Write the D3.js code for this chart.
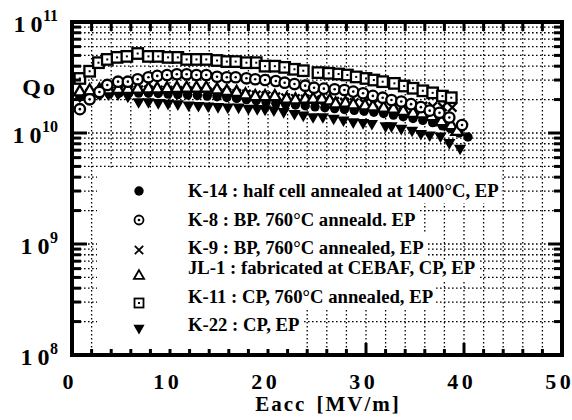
<!DOCTYPE html>
<html>
<head>
<meta charset="utf-8">
<script src="https://cdn.jsdelivr.net/npm/d3@7"></script>
<style>
  html, body { margin: 0; padding: 0; background: #fff; }
  svg { display: block; }
</style>
</head>
<body>
<svg id="chart" width="572" height="420"></svg>
<script>
// Q0 versus accelerating gradient for six cavities

// K-14 : half cell annealed at 1400°C, EP
const k14E = [0.8, 1.8, 2.8, 3.8, 4.8, 5.8, 6.8, 7.8, 8.8, 9.8, 10.8, 11.8, 12.8, 13.8, 14.8, 15.8, 16.8, 17.8, 18.8, 19.8,
              20.8, 21.8, 22.8, 23.8, 24.8, 25.8, 26.8, 27.8, 28.8, 29.8, 30.8, 31.8, 32.8, 33.8, 34.8, 35.8, 36.8, 37.8, 38.6, 39.5, 40.4];
const k14Q = [2.11e10, 2.18e10, 2.22e10, 2.25e10, 2.28e10, 2.29e10, 2.29e10, 2.28e10, 2.27e10, 2.24e10, 2.22e10, 2.2e10, 2.18e10, 2.15e10, 2.12e10, 2.09e10, 2.05e10, 2.0e10, 1.96e10, 1.9e10,
              1.85e10, 1.82e10, 1.79e10, 1.76e10, 1.72e10, 1.69e10, 1.66e10, 1.63e10, 1.6e10, 1.57e10, 1.54e10, 1.5e10, 1.45e10, 1.4e10, 1.35e10, 1.3e10, 1.24e10, 1.16e10, 1.1e10, 1.0e10, 9.2e9];

// K-8 : BP, 760°C annealed, EP
const k8E = [0.8, 1.8, 2.8, 3.6, 4.7, 5.7, 6.7, 7.8, 8.7, 9.7, 10.7, 11.7, 12.7, 13.7, 14.8, 15.8, 16.7, 17.8, 18.7, 19.7,
             20.8, 21.7, 22.7, 23.8, 24.7, 25.7, 26.8, 27.8, 28.7, 29.7, 30.7, 31.7, 32.6, 33.6, 34.6, 35.6, 36.5, 37.5, 38.5, 39.8];
const k8Q = [1.64e10, 2.01e10, 2.34e10, 2.71e10, 2.9e10, 2.9e10, 3.05e10, 3.18e10, 3.27e10, 3.33e10, 3.38e10, 3.38e10, 3.33e10, 3.33e10, 3.21e10, 3.18e10, 3.18e10, 3.11e10, 3.05e10, 3.0e10,
             2.94e10, 2.84e10, 2.76e10, 2.67e10, 2.56e10, 2.51e10, 2.48e10, 2.44e10, 2.36e10, 2.28e10, 2.16e10, 2.08e10, 1.98e10, 1.92e10, 1.82e10, 1.71e10, 1.59e10, 1.52e10, 1.38e10, 1.18e10];

// K-9 : BP, 760°C annealed, EP
const k9E = [0.8, 1.8, 2.8, 3.8, 4.8, 5.8, 6.8, 7.8, 8.8, 9.8, 10.8, 11.8, 12.8, 13.8, 14.8, 15.8, 16.8, 17.8, 18.8, 19.8,
             20.8, 21.8, 22.8, 23.8, 24.8, 25.8, 26.8, 27.8, 28.8, 29.8, 30.8, 31.8, 32.8, 33.8, 34.8, 35.8, 36.8, 37.8, 38.8];
const k9Q = [2.15e10, 2.28e10, 2.36e10, 2.4e10, 2.43e10, 2.45e10, 2.45e10, 2.45e10, 2.44e10, 2.43e10, 2.42e10, 2.4e10, 2.38e10, 2.36e10, 2.33e10, 2.3e10, 2.27e10, 2.24e10, 2.2e10, 2.16e10,
             2.12e10, 2.08e10, 2.05e10, 2.02e10, 1.99e10, 1.96e10, 1.93e10, 1.9e10, 1.88e10, 1.86e10, 1.84e10, 1.82e10, 1.8e10, 1.78e10, 1.76e10, 1.75e10, 1.73e10, 1.72e10, 1.7e10];

// JL-1 : fabricated at CEBAF, CP, EP
const jl1E = [0.8, 1.8, 2.8, 3.7, 4.7, 5.7, 6.7, 7.8, 8.7, 9.7, 10.7, 11.7, 12.7, 13.7, 14.8, 15.8, 16.8, 17.7, 18.7, 19.7,
              20.7, 21.9, 22.8, 23.8, 24.6, 25.5, 26.3, 26.9, 27.9, 28.7, 29.9, 30.7, 31.8, 32.8, 33.8, 34.8, 35.7, 36.7, 37.7, 38.7, 39.3];
const jl1Q = [2.34e10, 2.39e10, 2.42e10, 2.44e10, 2.46e10, 2.47e10, 2.48e10, 2.49e10, 2.49e10, 2.5e10, 2.52e10, 2.53e10, 2.53e10, 2.53e10, 2.44e10, 2.36e10, 2.31e10, 2.2e10, 2.12e10, 2.12e10,
              2.12e10, 2.01e10, 1.98e10, 2.01e10, 2.01e10, 2.01e10, 1.94e10, 1.82e10, 1.85e10, 1.79e10, 1.75e10, 1.71e10, 1.67e10, 1.64e10, 1.56e10, 1.5e10, 1.48e10, 1.4e10, 1.26e10, 1.16e10, 1.03e10];

// K-11 : CP, 760°C annealed, EP
const k11E = [0.8, 1.8, 2.7, 3.6, 4.6, 5.6, 6.7, 7.8, 8.8, 9.8, 10.8, 11.7, 12.7, 13.7, 14.8, 15.8, 16.7, 17.8, 18.8, 19.7,
              20.7, 21.7, 22.7, 23.6, 25.1, 26.2, 27.2, 28.1, 29.0, 30.0, 30.8, 31.7, 32.9, 33.9, 34.8, 35.8, 36.8, 37.8, 38.7];
const k11Q = [3.1e10, 3.6e10, 4.3e10, 4.6e10, 4.8e10, 4.9e10, 5.2e10, 4.9e10, 4.9e10, 4.8e10, 4.8e10, 4.6e10, 4.6e10, 4.6e10, 4.5e10, 4.4e10, 4.4e10, 4.3e10, 4.3e10, 4.0e10,
              4.0e10, 3.9e10, 3.75e10, 3.64e10, 3.5e10, 3.45e10, 3.4e10, 3.33e10, 3.2e10, 3.1e10, 3.0e10, 2.9e10, 2.8e10, 2.65e10, 2.53e10, 2.4e10, 2.3e10, 2.15e10, 2.08e10];

// K-22 : CP, EP
const k22E = [0.8, 1.8, 2.8, 3.7, 4.7, 5.7, 6.8, 7.8, 8.8, 9.8, 10.8, 11.9, 12.9, 13.9, 14.9, 15.9, 17.0, 18.0, 18.9, 19.7,
              20.6, 21.6, 22.7, 23.6, 24.6, 25.6, 26.7, 27.7, 28.7, 29.7, 30.6, 32.0, 32.6, 33.6, 34.7, 35.6, 36.5, 37.6, 38.5, 39.6];
const k22Q = [2.15e10, 2.2e10, 2.25e10, 2.25e10, 2.25e10, 2.15e10, 1.91e10, 1.91e10, 1.88e10, 1.85e10, 1.83e10, 1.79e10, 1.77e10, 1.75e10, 1.73e10, 1.71e10, 1.71e10, 1.67e10, 1.66e10, 1.64e10,
              1.61e10, 1.56e10, 1.5e10, 1.45e10, 1.4e10, 1.4e10, 1.36e10, 1.31e10, 1.26e10, 1.24e10, 1.22e10, 1.16e10, 1.16e10, 1.1e10, 1.06e10, 9.9e9, 9.6e9, 9.4e9, 8.2e9, 7.3e9];

const xTickLabels = ["0", "10", "20", "30", "40", "50"];
const yDecades = [1e8, 1e9, 1e10, 1e11];
const yDecadeExp = ["8", "9", "10", "11"];

const legendLabels = [
  "K-14 : half cell annealed at 1400°C, EP",
  "K-8 : BP. 760°C anneald. EP",
  "K-9 : BP, 760°C annealed, EP",
  "JL-1 : fabricated at CEBAF, CP, EP",
  "K-11 : CP, 760°C annealed, EP",
  "K-22 : CP, EP"
];

const FONT = "'Liberation Serif', 'Times New Roman', Times, serif";
const svg = d3.select("#chart");

const x = d3.scaleLinear().domain([0, 50]).range([72, 562]);
const y = d3.scaleLog().domain([1e8, 1e11]).range([355, 22]);
const [x0, x1] = x.range();
const [y0, y1] = [y.range()[1], y.range()[0]]; // top, bottom

function label(g) {
  return g.append("text").style("font-family", FONT).style("font-weight", "bold").attr("fill", "#000");
}
// digits spread apart without trailing space after the last one
function spaced(t, str, size, gap) {
  str.split("").forEach((ch, k) => t.append("tspan").attr("font-size", size).attr("dx", k ? gap : 0).text(ch));
  return t;
}

// ---- dotted grid ----
const gridX = d3.range(2, 50, 2);
const gridY = y.ticks().filter(v => v > 1e8 && v < 1e11);
const grid = svg.append("g").attr("stroke", "#000").attr("stroke-width", 1.3)
  .attr("stroke-dasharray", "1.6 2.4");
grid.selectAll("line.gx").data(gridX).join("line").attr("class", "gx")
  .attr("x1", d => x(d)).attr("x2", d => x(d)).attr("y1", y0).attr("y2", y1);
grid.selectAll("line.gy").data(gridY).join("line").attr("class", "gy")
  .attr("x1", x0).attr("x2", x1).attr("y1", d => y(d)).attr("y2", d => y(d));

// ---- legend (white panel hides the grid behind the entries) ----
const legendX = 139, legendTextX = 188;
const legendBase = [197, 226, 254, 274, 303, 331];
const legendMarkY = [191, 220, 250, 276, 303, 328];
const legG = svg.append("g");
const legBg = legG.append("g");
const legTexts = legendLabels.map((d, i) =>
  label(legG).attr("x", legendTextX).attr("y", legendBase[i]).attr("font-size", 18.7).text(d));
legTexts.forEach((t, i) => {
  const w = t.node().getComputedTextLength();
  const top = i === 0 ? 170 : legendBase[i - 1] + 6;
  const bot = i === legendLabels.length - 1 ? y1 - 2 : legendBase[i] + 6;
  legBg.append("rect").attr("x", 97).attr("y", top)
    .attr("width", legendTextX + w + 3 - 97).attr("height", bot - top).attr("fill", "#fff");
});
legBg.append("rect").attr("x", 97).attr("y", 170).attr("width", legendTextX - 97).attr("height", y1 - 2 - 170).attr("fill", "#fff");

// ---- marker painters ----
const tri = d3.symbol().type(d3.symbolTriangle);
function drawMarker(g, kind, cx, cy, s, sw) {
  switch (kind) {
    case "disc":
      g.append("circle").attr("cx", cx).attr("cy", cy).attr("r", s * 0.47).attr("fill", "#000");
      break;
    case "ring":
      g.append("circle").attr("cx", cx).attr("cy", cy).attr("r", s * 0.45).attr("fill", "#fff")
        .attr("stroke", "#000").attr("stroke-width", sw);
      g.append("circle").attr("cx", cx).attr("cy", cy).attr("r", 1.3).attr("fill", "#000");
      break;
    case "cross": {
      const h = s * 0.42;
      g.append("path").attr("d", `M${cx - h},${cy - h}L${cx + h},${cy + h}M${cx - h},${cy + h}L${cx + h},${cy - h}`)
        .attr("stroke", "#000").attr("stroke-width", sw).attr("fill", "none");
      break;
    }
    case "tri":
      g.append("path").attr("d", tri.size(s * s * 0.45)()).attr("transform", `translate(${cx},${cy})`)
        .attr("fill", "#fff").attr("stroke", "#000").attr("stroke-width", sw);
      break;
    case "square":
      g.append("rect").attr("x", cx - s / 2).attr("y", cy - s / 2).attr("width", s).attr("height", s)
        .attr("fill", "#fff").attr("stroke", "#000").attr("stroke-width", sw);
      g.append("rect").attr("x", cx - 1).attr("y", cy - 1).attr("width", 2).attr("height", 2).attr("fill", "#000");
      break;
    case "dtri":
      g.append("path").attr("d", tri.size(s * s * 0.45)()).attr("transform", `translate(${cx},${cy}) rotate(180)`)
        .attr("fill", "#000");
      break;
  }
}

// ---- data series (drawn bottom to top) ----
const series = [
  { e: k22E, q: k22Q, kind: "dtri", s: 12, leg: 5, ls: 11 },
  { e: k14E, q: k14Q, kind: "disc", s: 10, leg: 0, ls: 10 },
  { e: k9E,  q: k9Q,  kind: "cross", s: 10, leg: 2, ls: 10 },
  { e: jl1E, q: jl1Q, kind: "tri", s: 11.5, leg: 3, ls: 10 },
  { e: k8E,  q: k8Q,  kind: "ring", s: 11.5, leg: 1, ls: 10 },
  { e: k11E, q: k11Q, kind: "square", s: 10.5, leg: 4, ls: 9 }
];
const dataG = svg.append("g");
series.forEach(sr => {
  const g = dataG.append("g");
  sr.e.forEach((e, i) => drawMarker(g, sr.kind, x(e), y(sr.q[i]), sr.s, 2.3));
  drawMarker(legG.append("g"), sr.kind, legendX, legendMarkY[sr.leg], sr.ls, 1.8);
});

// ---- frame and inward ticks ----
const ax = svg.append("g").attr("stroke", "#000").attr("fill", "none");
ax.append("rect").attr("x", x0).attr("y", y0).attr("width", x1 - x0).attr("height", y1 - y0)
  .attr("stroke-width", 4);

const xTicks = d3.range(2, 50, 2);
const xTickLen = d => (d === 30 || d === 40) ? 12 : 6;
ax.selectAll("line.xb").data(xTicks).join("line").attr("class", "xb")
  .attr("stroke-width", 3)
  .attr("x1", d => x(d)).attr("x2", d => x(d)).attr("y1", y1).attr("y2", d => y1 - xTickLen(d));
ax.selectAll("line.xt").data(xTicks).join("line").attr("class", "xt")
  .attr("stroke-width", 3)
  .attr("x1", d => x(d)).attr("x2", d => x(d)).attr("y1", y0).attr("y2", y0 + 9);

const yTickAll = y.ticks().filter(v => v > 1e8 && v < 1e11);
const isDecade = v => Math.abs(Math.log10(v) - Math.round(Math.log10(v))) < 1e-9;
ax.selectAll("line.yl").data(yTickAll).join("line").attr("class", "yl")
  .attr("stroke-width", 3)
  .attr("x1", x0).attr("x2", d => x0 + (isDecade(d) ? 15 : 9)).attr("y1", d => y(d)).attr("y2", d => y(d));
ax.selectAll("line.yr").data(yTickAll).join("line").attr("class", "yr")
  .attr("stroke-width", 3)
  .attr("x1", x1).attr("x2", d => x1 - (isDecade(d) ? 14 : 8)).attr("y1", d => y(d)).attr("y2", d => y(d));

// ---- axis labels ----
const xl = svg.append("g");
xTickLabels.forEach(d => {
  spaced(label(xl).attr("x", x(+d) - 4).attr("y", 389).attr("text-anchor", "middle"), d, 22, 3.5);
});

// decade labels: "1", "0" spaced apart, exponent raised just after
const yl = svg.append("g");
yDecades.forEach((v, i) => {
  const t = label(yl).attr("x", 58).attr("y", y(v) + 10).attr("text-anchor", "end");
  spaced(t, "10", 24, 5);
  t.append("tspan").attr("font-size", 16).attr("dx", 0.5).attr("dy", -11).text(yDecadeExp[i]);
});

label(svg).attr("x", 57).attr("y", 95).attr("text-anchor", "end")
  .attr("font-size", 24).attr("letter-spacing", 2).text("Qo");

const title = label(svg).attr("x", 328).attr("y", 411).attr("text-anchor", "middle")
  .attr("font-size", 21).attr("letter-spacing", 2);
title.append("tspan").text("Eacc");
title.append("tspan").attr("dx", 10).text("[MV/m]");
</script>
</body>
</html>
